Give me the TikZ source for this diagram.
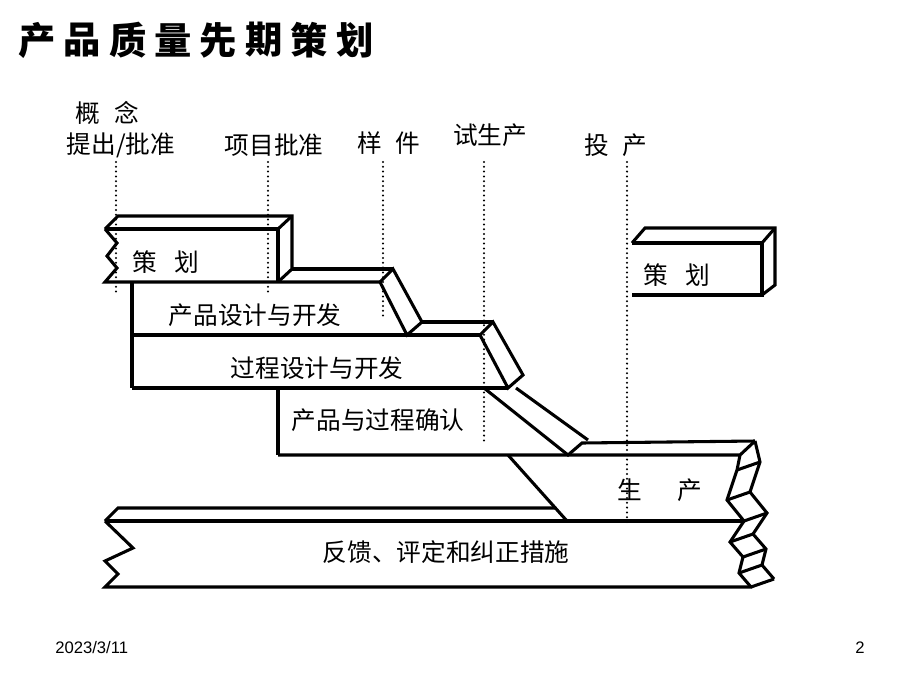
\documentclass[tikz,border=0pt]{standalone}
\usepackage{fontspec}
\newfontfamily\cjk{Noto Sans CJK SC}
\newfontfamily\foot{Liberation Sans}
\begin{document}
\begin{tikzpicture}[x=0.75pt,y=-0.75pt,
  edge/.style={line width=2.3pt, line join=miter, line cap=butt},
  dots/.style={line width=1.7pt, line cap=round, dash pattern=on 0pt off 3.6pt},
  lab/.style={font=\cjk\fontsize{18.5}{20}\selectfont, inner sep=0pt},
  ttl/.style={font=\cjk\bfseries\fontsize{28}{30}\selectfont, inner sep=0pt},
  ft/.style={font=\foot\fontsize{12.5}{14}\selectfont, inner sep=0pt}]
\useasboundingbox (0,0) rectangle (920,690);
% title
\foreach \c [count=\i] in {产,品,质,量,先,期,策,划}
  \node[ttl] (t\i) at ({37+45.4*(\i-1)},40) {\c};
% milestone labels
\node[lab] (m0) at (107,113) {概\hspace{11pt}念};
\node[lab] (m1) at (121,145) {提出/批准};
\node[lab] (m2) at (274,145) {项目批准};
\node[lab] (m3) at (389,143) {样\hspace{10pt}件};
\node[lab] (m4) at (490,135) {试生产};
\node[lab] (m5) at (616,145) {投\hspace{10pt}产};
% dotted milestone lines
\coordinate (d1a) at (116,162); \coordinate (d1b) at (116,295);
\coordinate (d2a) at (268,162); \coordinate (d2b) at (268,295);
\coordinate (d3a) at (383,162); \coordinate (d3b) at (383,318);
\coordinate (d4a) at (484,162); \coordinate (d4b) at (484,445);
\coordinate (d5a) at (627,162); \coordinate (d5b) at (627,524);
\foreach \k in {1,...,5} \draw[dots] (d\k a) -- (d\k b);
% box 1: planning
\draw[edge] (105,229) -- (118,216) -- (292,216) -- (292,269) -- (278,282);
\draw[edge] (105,229) -- (278,229) -- (278,282);
\draw[edge] (278,229) -- (292,216);
\draw[edge] (105,229) -- (117,243) -- (107,256) -- (117,268) -- (105,282) -- (380,282);
\draw[edge] (292,269) -- (393,269);
\node[lab] (p1) at (166,262) {策\hspace{13pt}划};
% box 2: product design
\draw[edge] (132,282) -- (132,388);
\draw[edge] (380,282) -- (393,269) -- (422,322) -- (407,335) -- cycle;
\draw[edge] (422,322) -- (493,322);
\draw[edge] (132,335) -- (480,335);
\node[lab] (p2) at (255,315) {产品设计与开发};
% box 3: process design
\draw[edge] (480,335) -- (493,322) -- (523,375) -- (508,388) -- cycle;
\draw[edge] (132,388) -- (508,388);
\node[lab] (p3) at (317,368) {过程设计与开发};
% box 4: validation
\draw[edge] (278,388) -- (278,455);
\draw[edge] (484,388) -- (568,455) -- (582,443) -- (755,441);
\draw[edge] (516,388) -- (588,440);
\node[lab] (p4) at (378,420) {产品与过程确认};
% production
\draw[edge] (278,455) -- (740,455) -- (755,441);
\draw[edge] (508,455) -- (567,521);
\node[lab] (p5) at (660,490) {生\hspace{27pt}产};
% feedback
\draw[edge] (105,521) -- (118,508) -- (556,508);
\draw[edge] (105,521) -- (745,521);
\draw[edge] (105,521) -- (133,548) -- (105,561) -- (118,574) -- (105,587) -- (752,587);
\node[lab] (p6) at (446,552) {反馈、评定和纠正措施};
% right zigzag ribbon
\draw[edge] (740,455) -- (737,470) -- (727,500) -- (744,521) -- (730,542) -- (743,557) -- (739,573) -- (751,587);
\draw[edge] (755,441) -- (760,462) -- (750,492) -- (767,513) -- (753,534) -- (766,549) -- (762,565) -- (774,579);
\draw[edge] (737,470) -- (760,462);
\draw[edge] (727,500) -- (750,492);
\draw[edge] (744,521) -- (767,513);
\draw[edge] (730,542) -- (753,534);
\draw[edge] (743,557) -- (766,549);
\draw[edge] (739,573) -- (762,565);
\draw[edge] (751,587) -- (774,579);
% right planning box
\draw[edge] (632,243) -- (645,228) -- (775,228) -- (775,285) -- (762,295);
\draw[edge] (632,243) -- (762,243) -- (762,295) -- (632,295);
\draw[edge] (762,243) -- (775,228);
\node[lab] (p7) at (677,275) {策\hspace{13pt}划};
% footer
\node[ft, anchor=west] (f1) at (55,648) {2023/3/11};
\node[ft] (f2) at (860,648) {2};
\end{tikzpicture}
\end{document}
